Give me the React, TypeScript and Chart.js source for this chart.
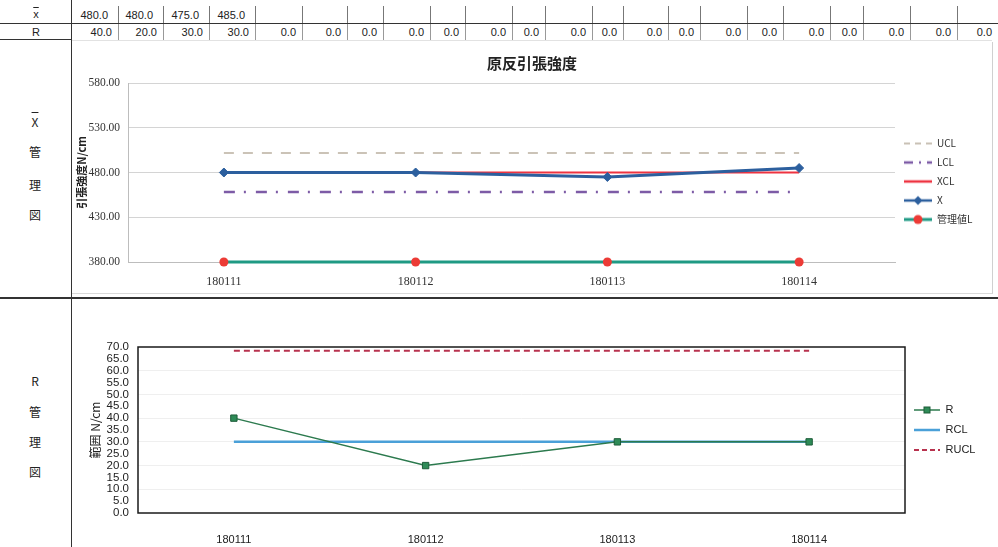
import React, { useEffect, useRef } from "react";
import { Chart, registerables } from "chart.js";

Chart.register(...registerables);

// ---------------- data ----------------
const categories = ["180111", "180112", "180113", "180114"];
const xbarSeries = [480, 480, 475, 485];
const xclSeries = [480, 480, 480, 480];
const uclSeries = [501.87, 501.87, 501.87, 501.87];
const lclSeries = [458.13, 458.13, 458.13, 458.13];
const limitLSeries = [380, 380, 380, 380];

const rSeries = [40, 20, 30, 30];
const rclSeries = [30, 30, 30, 30];
const ruclSeries = [68.46, 68.46, 68.46, 68.46];

const xbarAxisMin = 380;
const xbarAxisMax = 580;
const xbarAxisStep = 50;
const rAxisMin = 0;
const rAxisMax = 70;
const rAxisStep = 5;

const tableXbarRow = [480.0, 480.0, 475.0, 485.0];
const tableRRow = [
  40.0, 20.0, 30.0, 30.0, 0.0, 0.0, 0.0, 0.0, 0.0, 0.0, 0.0,
  0.0, 0.0, 0.0, 0.0, 0.0, 0.0, 0.0, 0.0, 0.0, 0.0, 0.0,
];

// ---------------- layout (not data) ----------------
const tableEdges = [
  72, 118, 163, 209, 255, 302, 347, 383, 430, 465, 512, 545, 592, 623, 668,
  700, 747, 783, 830, 863, 910, 957, 998,
];

const SANS = '"Liberation Sans", Arial, sans-serif';
const SERIF = '"Liberation Serif", "Times New Roman", serif';
const JP = '"Noto Sans CJK JP", "Noto Sans", sans-serif';

function legendImage(w: number, h: number, draw: (ctx: CanvasRenderingContext2D, w: number, h: number) => void) {
  const c = document.createElement("canvas");
  c.width = w;
  c.height = h;
  const ctx = c.getContext("2d")!;
  draw(ctx, w, h);
  return c;
}

function hline(ctx: CanvasRenderingContext2D, w: number, h: number, color: string, lw: number, dash: number[] = []) {
  ctx.save();
  ctx.strokeStyle = color;
  ctx.lineWidth = lw;
  ctx.setLineDash(dash);
  ctx.beginPath();
  ctx.moveTo(0, h / 2);
  ctx.lineTo(w, h / 2);
  ctx.stroke();
  ctx.restore();
}

function legendWidthPlugin(width: number) {
  return {
    id: "legendWidth" + width,
    beforeLayout(chart: any) {
      const lg = chart.legend;
      if (lg && !lg.__patched) {
        const orig = lg.fit.bind(lg);
        lg.fit = () => {
          orig();
          lg.width = width;
        };
        lg.__patched = true;
      }
    },
  };
}

const plotBorderPlugin = {
  id: "plotBorder",
  beforeDatasetsDraw(chart: any) {
    const { ctx, chartArea } = chart;
    ctx.save();
    ctx.strokeStyle = "#1a1a1a";
    ctx.lineWidth = 1.5;
    ctx.strokeRect(chartArea.left, chartArea.top, chartArea.right - chartArea.left, chartArea.bottom - chartArea.top);
    ctx.restore();
  },
};

function XbarChart() {
  const ref = useRef<HTMLCanvasElement>(null);
  useEffect(() => {
    const imgs = [
      legendImage(28, 12, (c, w, h) => hline(c, w, h, "#c9c1b5", 2, [6, 5])),
      legendImage(28, 12, (c, w, h) => hline(c, w, h, "#7d5ba6", 2.5, [9, 6, 2, 6])),
      legendImage(28, 12, (c, w, h) => hline(c, w, h, "#ee3340", 2.5)),
      legendImage(28, 12, (c, w, h) => {
        hline(c, w, h, "#2c5f9e", 2.5);
        c.fillStyle = "#2c5f9e";
        c.beginPath();
        c.moveTo(w / 2 - 4.5, h / 2);
        c.lineTo(w / 2, h / 2 - 4.5);
        c.lineTo(w / 2 + 4.5, h / 2);
        c.lineTo(w / 2, h / 2 + 4.5);
        c.closePath();
        c.fill();
      }),
      legendImage(28, 12, (c, w, h) => {
        hline(c, w, h, "#1f9a84", 3);
        c.fillStyle = "#ec3b36";
        c.beginPath();
        c.arc(w / 2, h / 2, 4.5, 0, Math.PI * 2);
        c.fill();
      }),
    ];
    const chart = new Chart(ref.current!, {
      type: "line",
      data: {
        labels: categories,
        datasets: [
          { label: "UCL", data: uclSeries, borderColor: "#cbc3b7", borderWidth: 2, borderDash: [10, 9], pointRadius: 0, fill: false },
          { label: "LCL", data: lclSeries, borderColor: "#7d5ba6", borderWidth: 2.5, borderDash: [11, 9, 2, 10], pointRadius: 0, fill: false },
          { label: "XCL", data: xclSeries, borderColor: "#ee3340", borderWidth: 2, pointRadius: 0, fill: false },
          {
            label: "X", data: xbarSeries, borderColor: "#2c5f9e", borderWidth: 3, pointStyle: "rectRot", pointRadius: 4.5,
            pointBackgroundColor: "#2c5f9e", pointBorderColor: "#2c5f9e", pointBorderWidth: 1, fill: false, order: -1,
          },
          {
            label: "管理値L", data: limitLSeries, borderColor: "#1f9a84", borderWidth: 3, pointStyle: "circle", pointRadius: 4.5,
            pointBackgroundColor: "#ec3b36", pointBorderColor: "#ec3b36", pointBorderWidth: 0, fill: false, clip: false as any,
          },
        ],
      },
      options: {
        responsive: false,
        animation: false,
        layout: { padding: 0 },
        plugins: {
          tooltip: { enabled: false },
          title: {
            display: true,
            text: "原反引張強度",
            color: "#222",
            font: { family: JP, size: 15, weight: "bold" },
            padding: { top: 12, bottom: 11 },
          },
          legend: {
            position: "right",
            fullSize: false,
            title: { display: true, text: " ", font: { size: 10 }, padding: { top: 3, bottom: 3 } },
            labels: {
              usePointStyle: true,
              pointStyleWidth: 28,
              padding: 9,
              color: "#333",
              font: { family: JP, size: 10 },
              sort: (a: any, b: any) => a.datasetIndex - b.datasetIndex,
              generateLabels: (ch: any) => {
                const items = (Chart.defaults.plugins.legend.labels as any).generateLabels(ch);
                return items.map((it: any) => ({ ...it, pointStyle: imgs[it.datasetIndex] }));
              },
            },
          },
        },
        scales: {
          x: {
            offset: true,
            grid: { display: false },
            border: { color: "#bdbdbd" },
            ticks: { color: "#333", font: { family: SERIF, size: 12 }, padding: 5 },
            afterFit: (s: any) => { s.height = 32; },
          },
          y: {
            min: xbarAxisMin,
            max: xbarAxisMax,
            ticks: {
              stepSize: xbarAxisStep,
              color: "#333",
              font: { family: SERIF, size: 11.5 },
              padding: 8,
              callback: (v: any) => Number(v).toFixed(2),
            },
            grid: { color: "#d4d4d4", drawTicks: false },
            border: { color: "#bdbdbd" },
            title: {
              display: true,
              text: "引張強度N/cm",
              color: "#222",
              font: { family: JP, size: 11, weight: "bold" },
              padding: { top: 3, bottom: 0 },
            },
            afterFit: (s: any) => { s.width = 56; },
          },
        },
      } as any,
      plugins: [legendWidthPlugin(97)],
    });
    return () => chart.destroy();
  }, []);
  return <canvas ref={ref} width={920} height={252} style={{ position: "absolute", left: 72, top: 42, width: 920, height: 252 }} />;
}

function RChart() {
  const ref = useRef<HTMLCanvasElement>(null);
  useEffect(() => {
    const imgs = [
      legendImage(26, 10, (c, w, h) => {
        hline(c, w, h, "#2c7a4e", 1.5);
        c.fillStyle = "#2e8b57";
        c.strokeStyle = "#1d5c39";
        c.lineWidth = 1;
        c.fillRect(w / 2 - 3, h / 2 - 3, 6, 6);
        c.strokeRect(w / 2 - 3, h / 2 - 3, 6, 6);
      }),
      legendImage(26, 10, (c, w, h) => hline(c, w, h, "#4aa0d8", 2.5)),
      legendImage(26, 10, (c, w, h) => hline(c, w, h, "#b8324e", 2, [5, 3])),
    ];
    const chart = new Chart(ref.current!, {
      type: "line",
      data: {
        labels: categories,
        datasets: [
          {
            label: "R", data: rSeries, borderColor: "#2c7a4e", borderWidth: 1.5, pointStyle: "rect", pointRadius: 4.5,
            pointBackgroundColor: "#2e8b57", pointBorderColor: "#1d5c39", pointBorderWidth: 1, fill: false,
          },
          { label: "RCL", data: rclSeries, borderColor: "#4aa0d8", borderWidth: 2.5, pointRadius: 0, fill: false },
          { label: "RUCL", data: ruclSeries, borderColor: "#b8324e", borderWidth: 2, borderDash: [6, 4], pointRadius: 0, fill: false },
        ],
      },
      options: {
        responsive: false,
        animation: false,
        layout: { padding: { top: 45, left: 0, right: 0, bottom: 0 } },
        plugins: {
          tooltip: { enabled: false },
          title: { display: false },
          legend: {
            position: "right",
            fullSize: false,
            labels: {
              usePointStyle: true,
              pointStyleWidth: 26,
              padding: 9,
              color: "#222",
              font: { family: SANS, size: 11 },
              generateLabels: (ch: any) => {
                const items = (Chart.defaults.plugins.legend.labels as any).generateLabels(ch);
                return items.map((it: any) => ({ ...it, pointStyle: imgs[it.datasetIndex] }));
              },
            },
          },
        },
        scales: {
          x: {
            offset: true,
            grid: { display: false },
            border: { display: false },
            ticks: { color: "#222", font: { family: SANS, size: 11 }, padding: 12 },
            afterFit: (s: any) => { s.height = 34; },
          },
          y: {
            min: rAxisMin,
            max: rAxisMax,
            ticks: {
              stepSize: rAxisStep,
              autoSkip: false,
              color: "#222",
              font: { family: SANS, size: 11.5, lineHeight: 1 },
              padding: 9,
              callback: (v: any) => Number(v).toFixed(1),
            },
            grid: {
              drawTicks: false,
              color: (c: any) => {
                const v = c.tick && c.tick.value;
                return v > 0 && v < 70 && v % 10 === 0 ? "#efefef" : "rgba(0,0,0,0)";
              },
            },
            border: { display: false },
            title: {
              display: true,
              text: "範囲 N/cm",
              color: "#222",
              font: { family: JP, size: 12 },
              padding: { top: 14, bottom: 0 },
            },
            afterFit: (s: any) => { s.width = 64; },
          },
        },
      } as any,
      plugins: [plotBorderPlugin, legendWidthPlugin(87)],
    });
    return () => chart.destroy();
  }, []);
  return <canvas ref={ref} width={918} height={245} style={{ position: "absolute", left: 74, top: 302, width: 918, height: 245 }} />;
}

const abs = (s: any) => ({ position: "absolute" as const, ...s });

export default function App() {
  const cells = tableEdges.slice(0, -1).map((l, i) => ({ l, r: tableEdges[i + 1] }));
  return (
    <div style={abs({ position: "fixed", left: 0, top: 0, width: 998, height: 547, background: "#fff", overflow: "hidden", fontFamily: SANS, color: "#222" })}>
      {/* table lines */}
      <div style={abs({ left: 0, top: 23, width: 998, height: 0, borderTop: "1.5px solid #333" })} />
      <div style={abs({ left: 0, top: 39, width: 72, height: 0, borderTop: "1.5px solid #333" })} />
      <div style={abs({ left: 72, top: 40, width: 920, height: 0, borderTop: "1px solid #e2e2e2" })} />
      <div style={abs({ left: 71, top: 0, width: 0, height: 547, borderLeft: "1.5px solid #333" })} />
      <div style={abs({ left: 0, top: 297, width: 998, height: 0, borderTop: "2px solid #333" })} />
      {cells.slice(0, -1).map((c, i) => (
        <div key={"v1" + i} style={abs({ left: c.r, top: 6, width: 0, height: 17, borderLeft: "1px solid #777" })} />
      ))}
      {cells.slice(0, -1).map((c, i) => (
        <div key={"v2" + i} style={abs({ left: c.r, top: 24, width: 0, height: 16, borderLeft: "1px solid #999" })} />
      ))}
      {/* row headers */}
      <div style={abs({ left: 28, top: 6, width: 16, textAlign: "center", fontSize: 11, lineHeight: "16px", textDecoration: "overline" })}>x</div>
      <div style={abs({ left: 28, top: 24, width: 16, textAlign: "center", fontSize: 11, lineHeight: "16px" })}>R</div>
      {tableXbarRow.map((v, i) => (
        <div key={"x" + i} style={abs({ left: cells[i].l, top: 7, width: cells[i].r - cells[i].l - 10, textAlign: "right", fontSize: 11, lineHeight: "16px" })}>
          {v.toFixed(1)}
        </div>
      ))}
      {tableRRow.map((v, i) => (
        <div key={"r" + i} style={abs({ left: cells[i].l, top: 24, width: cells[i].r - cells[i].l - 6, textAlign: "right", fontSize: 11, lineHeight: "16px" })}>
          {v.toFixed(1)}
        </div>
      ))}
      {/* side labels */}
      {[
        { t: "X", y: 114, over: true },
        { t: "管", y: 144 },
        { t: "理", y: 177 },
        { t: "図", y: 207 },
        { t: "R", y: 373 },
        { t: "管", y: 404 },
        { t: "理", y: 434 },
        { t: "図", y: 464 },
      ].map((s, i) => (
        <div key={"s" + i} style={abs({ left: 25, top: s.y, width: 20, textAlign: "center", fontSize: 12, lineHeight: "16px", fontFamily: JP, textDecoration: s.over ? "overline" : "none" })}>
          {s.t}
        </div>
      ))}
      {/* chart 1 frame */}
      <div style={abs({ left: 72, top: 42, width: 920, height: 251, borderRight: "1px solid #d0d0d0", borderBottom: "1px solid #dadada" })} />
      <XbarChart />
      <RChart />
    </div>
  );
}
